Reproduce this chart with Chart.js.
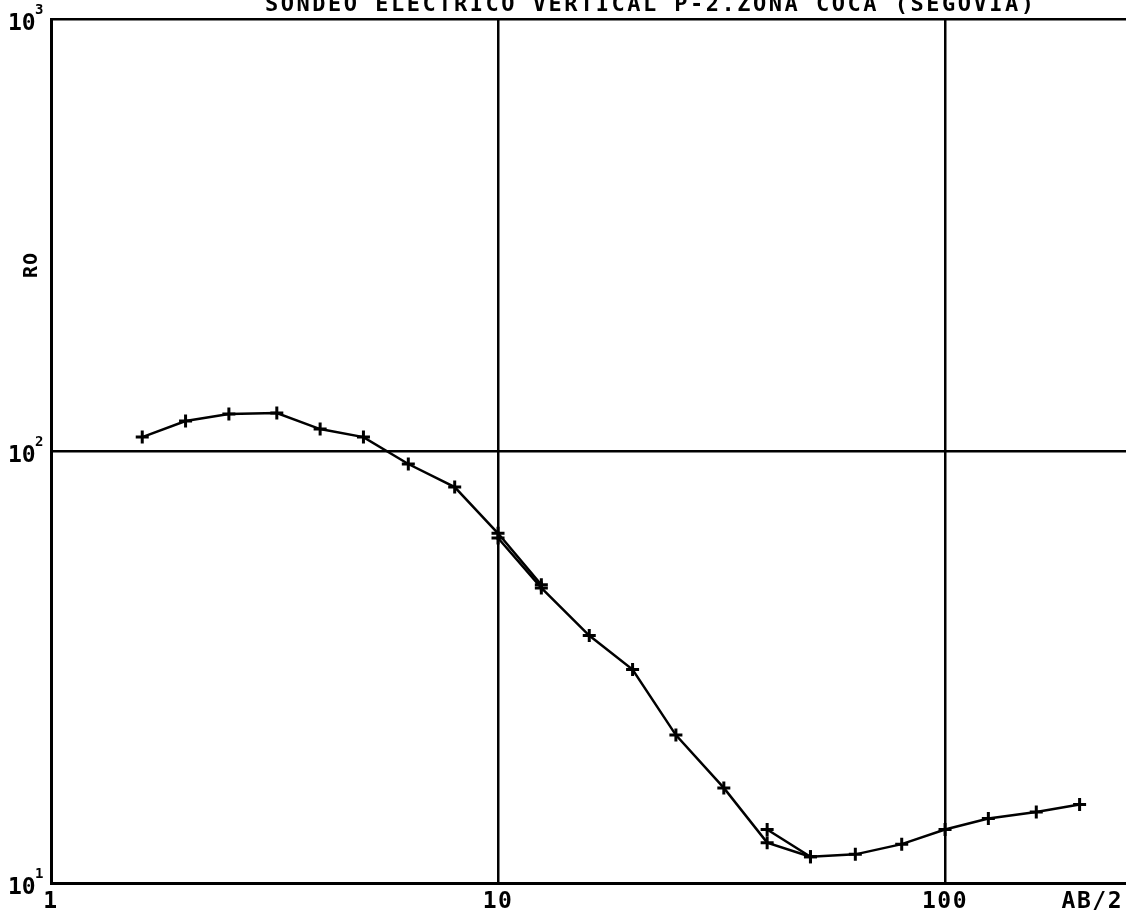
<!DOCTYPE html>
<html>
<head>
<meta charset="utf-8">
<script src="https://cdn.jsdelivr.net/npm/chart.js@4.4.1/dist/chart.umd.min.js"></script>
<style>
  html, body { margin: 0; padding: 0; background: #fff; }
  #wrap { width: 1126px; height: 915px; }
</style>
</head>
<body>
<div id="wrap"><canvas id="chart" width="1126" height="915"></canvas></div>
<script>
// ===== Data (AB/2 in m, apparent resistivity RO) =====
const seg1AB = [1.6, 2, 2.5, 3.2, 4, 5, 6.3, 8, 10, 12.5];
const seg1RO = [107.7, 117.3, 121.8, 122.4, 112.4, 107.7, 93.3, 82.5, 64.5, 49.0];

const seg2AB = [10, 12.5, 16, 20, 25, 32, 40, 50];
const seg2RO = [62.9, 48.2, 37.4, 31.2, 22.0, 16.6, 12.4, 11.5];

const seg3AB = [40, 50, 63, 80, 100, 125, 160, 200];
const seg3RO = [13.3, 11.5, 11.65, 12.3, 13.3, 14.1, 14.6, 15.2];

const xTicks = [1, 10, 100];
const xTickLabels = ["1", "10", "100"];
const yTicks = [10, 100, 1000];
const yExponents = ["1", "2", "3"];

const titleText = "SONDEO ELECTRICO VERTICAL P-2.ZONA COCA (SEGOVIA)";
const xAxisLabel = "AB/2";
const yAxisLabel = "RO";

const FONT = '"DejaVu Sans Mono", "Liberation Mono", monospace';

function toPoints(xs, ys) {
    return xs.map((x, i) => ({ x: x, y: ys[i] }));
}

function segment(xs, ys) {
    return {
        data: toPoints(xs, ys),
        borderColor: "#000",
        borderWidth: 2.5,
        pointStyle: "cross",
        pointRadius: 6.5,
        pointBorderWidth: 3,
        pointBorderColor: "#000",
        pointBackgroundColor: "#000",
        fill: false,
        tension: 0
    };
}

// ===== Labels drawn on top of the scales =====
const plotterText = {
    id: "plotterText",
    afterDraw(chart) {
        const ctx = chart.ctx;
        const xs = chart.scales.x;
        const ys = chart.scales.y;
        ctx.save();
        ctx.fillStyle = "#000";

        // title
        ctx.font = "bold 22px " + FONT;
        if ("letterSpacing" in ctx) ctx.letterSpacing = "2.5px";
        ctx.textAlign = "left";
        ctx.textBaseline = "alphabetic";
        ctx.fillText(titleText, 265, 11);

        // x tick labels
        ctx.font = "bold 23px " + FONT;
        ctx.letterSpacing = "1.5px";
        ctx.textAlign = "center";
        ctx.textBaseline = "top";
        xTicks.forEach((v, i) => {
            ctx.fillText(xTickLabels[i], xs.getPixelForValue(v), 891);
        });
        ctx.textAlign = "right";
        ctx.fillText(xAxisLabel, 1123, 891);

        // y tick labels: 10 with exponent
        yTicks.forEach((v, i) => {
            const py = ys.getPixelForValue(v);
            ctx.font = "bold 23px " + FONT;
            ctx.textAlign = "left";
            ctx.textBaseline = "alphabetic";
            ctx.letterSpacing = "0px";
            ctx.fillText("10", 8, py + 11);
            ctx.font = "bold 14px " + FONT;
            ctx.fillText(yExponents[i], 35, py - 5);
        });

        // y axis name
        ctx.font = "bold 20px " + FONT;
        ctx.letterSpacing = "1px";
        ctx.translate(32, 265);
        ctx.rotate(-Math.PI / 2);
        ctx.textAlign = "center";
        ctx.textBaseline = "middle";
        ctx.fillText(yAxisLabel, 0, 0);
        ctx.restore();
    }
};

// ===== Chart =====
const chart = new Chart(document.getElementById("chart"), {
    type: "line",
    data: {
        datasets: [
            segment(seg1AB, seg1RO),
            segment(seg2AB, seg2RO),
            segment(seg3AB, seg3RO)
        ]
    },
    options: {
        responsive: false,
        animation: false,
        layout: { autoPadding: false, padding: { left: 51, top: 19, right: 0, bottom: 32 } },
        plugins: {
            legend: { display: false },
            tooltip: { enabled: false },
            title: { display: false }
        },
        scales: {
            x: {
                type: "logarithmic",
                min: 1,
                max: 254,
                afterBuildTicks: s => { s.ticks = xTicks.map(v => ({ value: v })); },
                afterFit: s => { s.height = 0; s.paddingLeft = 0; s.paddingRight = 0; },
                ticks: { display: false },
                grid: { color: "#000", lineWidth: 2.5, drawTicks: false },
                border: { display: true, color: "#000", width: 3 }
            },
            y: {
                type: "logarithmic",
                min: 10,
                max: 1000,
                afterBuildTicks: s => { s.ticks = yTicks.map(v => ({ value: v })); },
                afterFit: s => { s.width = 0; s.paddingTop = 0; s.paddingBottom = 0; },
                ticks: { display: false },
                grid: { color: "#000", lineWidth: 2.5, drawTicks: false },
                border: { display: true, color: "#000", width: 3 }
            }
        }
    },
    plugins: [plotterText]
});
</script>
</body>
</html>
